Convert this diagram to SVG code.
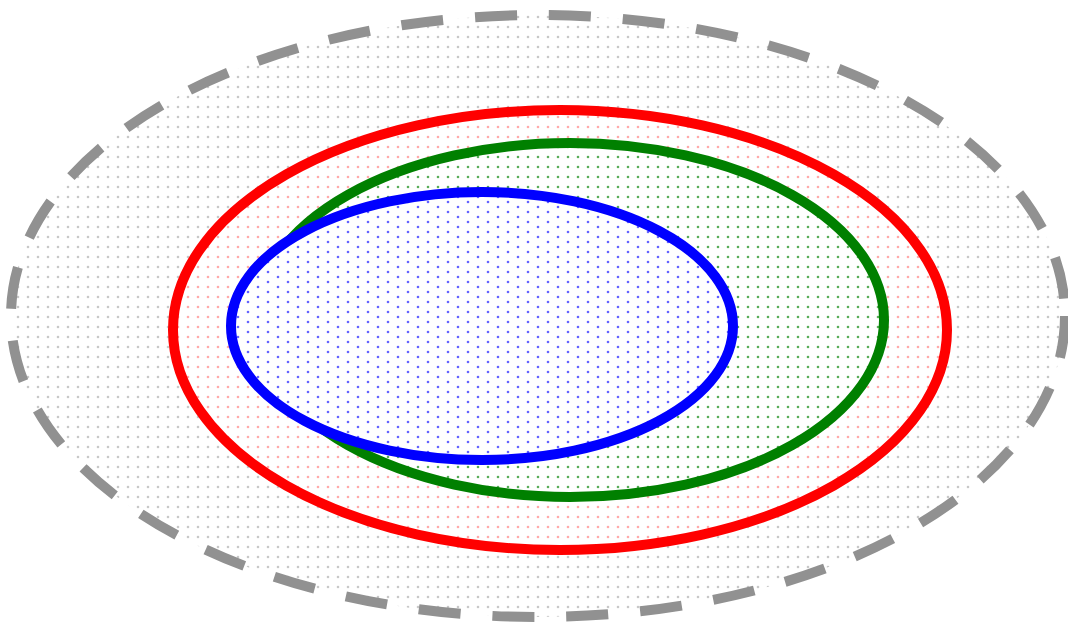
<svg xmlns="http://www.w3.org/2000/svg" width="1068" height="625" viewBox="0 0 1068 625">
  <defs>
    <pattern id="pg" width="10" height="10" patternUnits="userSpaceOnUse" x="3" y="2">
      <circle cx="5" cy="5" r="1.3" fill="#c8c8c8"/>
    </pattern>
    <pattern id="pr" width="10" height="10" patternUnits="userSpaceOnUse" x="3" y="2">
      <circle cx="5" cy="5" r="1.3" fill="#ffaaaa"/>
    </pattern>
    <pattern id="pgr" width="10" height="10" patternUnits="userSpaceOnUse" x="3" y="2">
      <circle cx="5" cy="5" r="1.3" fill="#5aad5a"/>
    </pattern>
    <pattern id="pb" width="20" height="10" patternUnits="userSpaceOnUse" x="3" y="2">
      <circle cx="5" cy="0" r="1.3" fill="#6464ff"/>
      <circle cx="15" cy="5" r="1.3" fill="#6464ff"/>
      <circle cx="5" cy="10" r="1.3" fill="#6464ff"/>
    </pattern>
    <style>
      .set { stroke-width: 10; }
    </style>
  </defs>
  <rect width="1068" height="625" fill="#ffffff"/>
  <g id="universe">
    <ellipse cx="538" cy="316" rx="527" ry="301" fill="url(#pg)" stroke="#919191" stroke-width="10" stroke-dasharray="42 32"/>
  </g>
  <g id="red-set">
    <ellipse cx="560" cy="330" rx="387" ry="220" fill="#ffffff"/>
    <ellipse cx="560" cy="330" rx="387" ry="220" fill="url(#pr)" stroke="#ff0000" class="set"/>
  </g>
  <g id="green-set">
    <ellipse cx="570" cy="320" rx="314" ry="177" fill="#ffffff"/>
    <ellipse cx="570" cy="320" rx="314" ry="177" fill="url(#pgr)" stroke="#008000" class="set"/>
  </g>
  <g id="blue-set">
    <ellipse cx="482" cy="326" rx="251" ry="134" fill="#ffffff"/>
    <ellipse cx="482" cy="326" rx="251" ry="134" fill="url(#pb)" stroke="#0000ff" class="set"/>
  </g>
  <g id="connectors"/>
</svg>
